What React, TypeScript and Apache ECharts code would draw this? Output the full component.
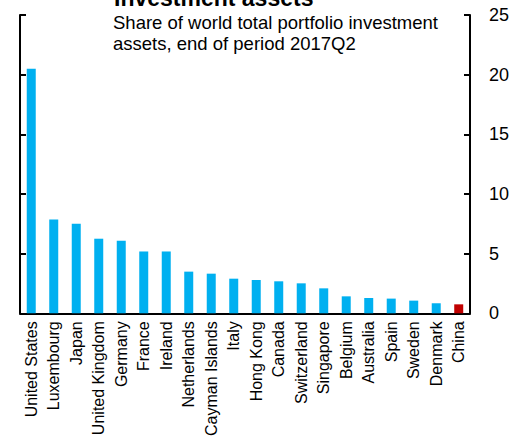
import React, { useEffect, useRef } from "react";
import * as echarts from "echarts";

const categories = [
  "United States", "Luxembourg", "Japan", "United Kingdom", "Germany", "France",
  "Ireland", "Netherlands", "Cayman Islands", "Italy", "Hong Kong", "Canada",
  "Switzerland", "Singapore", "Belgium", "Australia", "Spain", "Sweden", "Denmark", "China",
];
const values = [
  20.5, 7.86, 7.5, 6.25, 6.08, 5.18, 5.18, 3.49, 3.32, 2.9, 2.79, 2.68,
  2.51, 2.09, 1.42, 1.28, 1.23, 1.06, 0.84, 0.75,
];
const highlight = "China";
const titleText = "Investment assets";
const subtitleLines = ["Share of world total portfolio investment", "assets, end of period 2017Q2"];

const FONT = 'Arial, "Liberation Sans", sans-serif';

export default function App() {
  const ref = useRef<HTMLDivElement>(null);
  useEffect(() => {
    if (!ref.current) return;
    const chart = echarts.init(ref.current, null, { renderer: "svg" });
    const axisLineStyle = { color: "#000", width: 2 };
    chart.setOption({
      animation: false,
      backgroundColor: "#fff",
      textStyle: { fontFamily: FONT },
      grid: { left: 20, right: 36, top: 15, bottom: 125, containLabel: false },
      graphic: [
        {
          type: "text",
          x: 114,
          y: 9,
          style: {
            text: titleText,
            font: `bold 23px ${FONT}`,
            fill: "#000",
            verticalAlign: "bottom",
          },
        },
        {
          type: "text",
          x: 113,
          y: 12,
          style: {
            text: subtitleLines.join("\n"),
            font: `18.5px ${FONT}`,
            lineHeight: 21,
            fill: "#000",
            verticalAlign: "top",
          },
        },
      ],
      xAxis: {
        type: "category",
        data: categories,
        boundaryGap: true,
        axisLine: { show: true, lineStyle: axisLineStyle },
        axisTick: { show: false },
        axisLabel: {
          rotate: 90,
          interval: 0,
          margin: 8,
          color: "#000",
          fontSize: 16,
          fontFamily: FONT,
        },
      },
      yAxis: [
        {
          type: "value",
          position: "right",
          min: 0,
          max: 25,
          interval: 5,
          splitLine: { show: false },
          axisLine: { show: true, lineStyle: axisLineStyle },
          axisTick: { show: true, inside: true, length: 6, lineStyle: axisLineStyle },
          axisLabel: { color: "#000", fontSize: 18, margin: 19, fontFamily: FONT },
        },
        {
          type: "value",
          position: "left",
          min: 0,
          max: 25,
          interval: 5,
          splitLine: { show: false },
          axisLine: { show: true, lineStyle: axisLineStyle },
          axisTick: { show: true, inside: true, length: 6, lineStyle: axisLineStyle },
          axisLabel: { show: false },
        },
      ],
      series: [
        {
          type: "bar",
          yAxisIndex: 0,
          barWidth: 9,
          data: values.map((v, i) => ({
            value: v,
            itemStyle: { color: categories[i] === highlight ? "#C00000" : "#00B0F0" },
          })),
        },
      ],
    });
    return () => chart.dispose();
  }, []);
  return <div ref={ref} style={{ width: 512, height: 439, position: "absolute", left: 0, top: 0 }} />;
}
